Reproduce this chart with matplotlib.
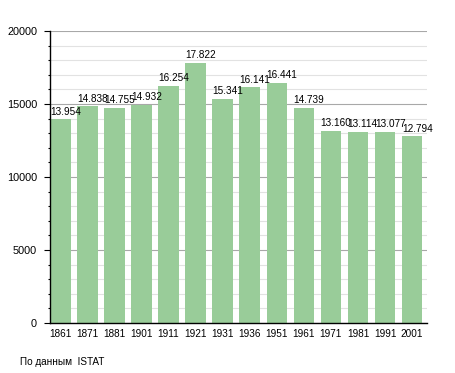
import matplotlib
matplotlib.use("Agg")
import matplotlib.pyplot as plt
from matplotlib.ticker import MultipleLocator

# Population by census year
years = ["1861", "1871", "1881", "1901", "1911", "1921", "1931",
         "1936", "1951", "1961", "1971", "1981", "1991", "2001"]
population = [13954, 14838, 14755, 14932, 16254, 17822, 15341,
              16141, 16441, 14739, 13160, 13114, 13077, 12794]
value_labels = ["13.954", "14.838", "14.755", "14.932", "16.254", "17.822", "15.341",
                "16.141", "16.441", "14.739", "13.160", "13.114", "13.077", "12.794"]

plt.rcParams["font.family"] = ["Liberation Sans", "DejaVu Sans"]

fig = plt.figure(figsize=(4.55, 3.73), dpi=100)
ax = fig.add_axes([50 / 455, 50 / 373, 377 / 455, 292 / 373])

bar_w = 0.76
x = list(range(len(years)))
ax.bar(x, population, width=bar_w, color="#99cc99", zorder=2)

# value labels, starting at the left edge of each bar
for i, (v, lab) in enumerate(zip(population, value_labels)):
    ax.annotate(lab, (i - bar_w / 2, v), xytext=(0, 3.3), textcoords="offset points",
                ha="left", va="baseline", fontsize=7.2, color="black", zorder=3)

ax.set_xlim(-bar_w / 2, 13.55)
ax.set_ylim(0, 20000)

ax.yaxis.set_major_locator(MultipleLocator(5000))
ax.yaxis.set_minor_locator(MultipleLocator(1000))
ax.grid(which="minor", axis="y", color="#e2e2e2", linewidth=0.8, zorder=0)
ax.grid(which="major", axis="y", color="#a8a8a8", linewidth=0.8, zorder=1)

ax.set_xticks(x)
ax.set_xticklabels(years)
ax.tick_params(axis="x", length=0, pad=4, labelsize=7.2)
ax.tick_params(axis="y", which="major", length=4.3, width=0.8, pad=5, labelsize=7.8)
ax.tick_params(axis="y", which="minor", length=1.6, width=0.8)

for side in ["top", "right"]:
    ax.spines[side].set_visible(False)
for side in ["left", "bottom"]:
    ax.spines[side].set_linewidth(1.0)
    ax.spines[side].set_color("black")

fig.text(20 / 455, 1 - 362 / 373, "По данным  ISTAT", fontsize=7.2, va="center", ha="left")

fig.savefig("out.png", dpi=100)
